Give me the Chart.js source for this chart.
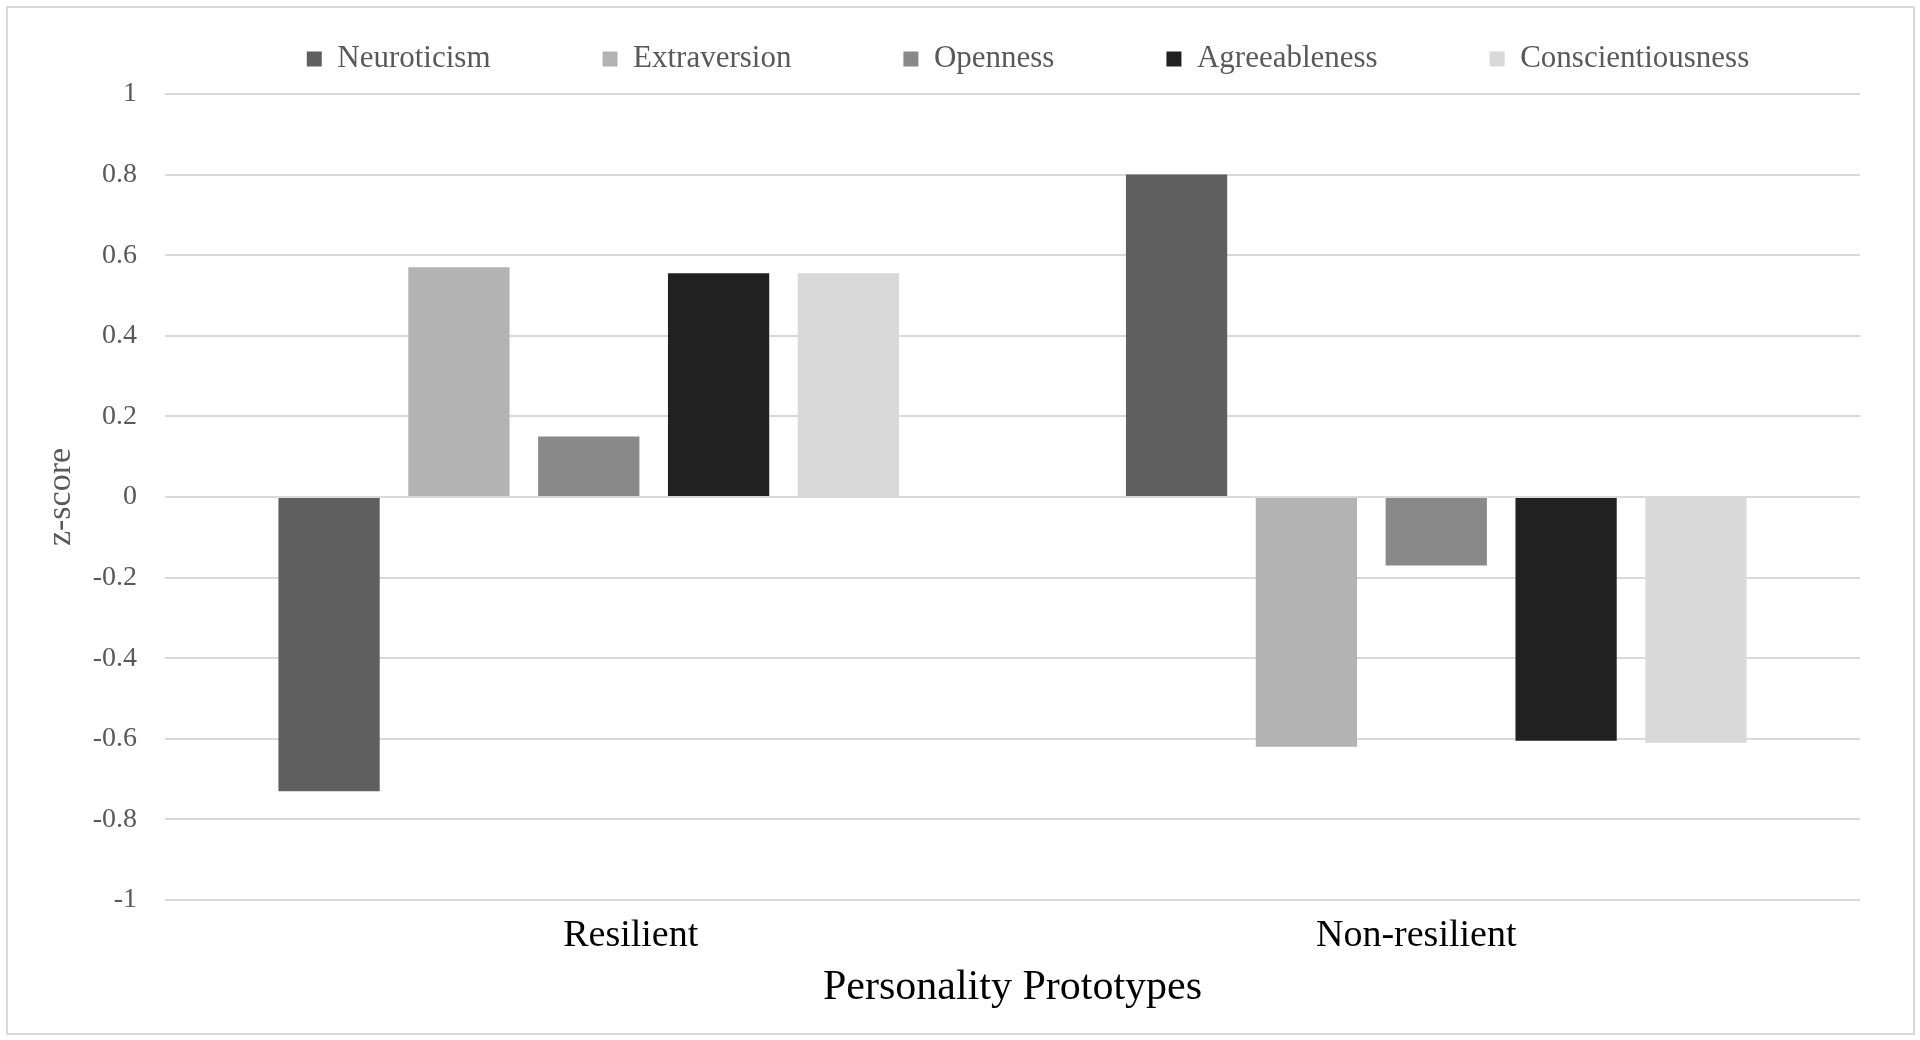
<!DOCTYPE html>
<html>
<head>
<meta charset="utf-8">
<script src="https://cdn.jsdelivr.net/npm/chart.js@4/dist/chart.umd.min.js"></script>
<style>
  html, body { margin: 0; padding: 0; background: #fff; }
  #wrap { position: relative; width: 1920px; height: 1040px; }
  #frame {
    position: absolute; left: 6px; top: 6px; right: 5px; bottom: 5px;
    border: 2px solid #d9d9d9; pointer-events: none;
  }
</style>
</head>
<body>
<div id="wrap">
  <canvas id="chart" width="1920" height="1040"></canvas>
  <div id="frame"></div>
</div>
<script>
// categories and series
const categories = ["Resilient", "Non-resilient"];
const neuroticism = [-0.73, 0.80];
const extraversion = [0.57, -0.62];
const openness = [0.15, -0.17];
const agreeableness = [0.555, -0.605];
const conscientiousness = [0.555, -0.61];

const yTicks = [-1, -0.8, -0.6, -0.4, -0.2, 0, 0.2, 0.4, 0.6, 0.8, 1];
const yTickLabels = ["-1", "-0.8", "-0.6", "-0.4", "-0.2", "0", "0.2", "0.4", "0.6", "0.8", "1"];

const serif = "'Liberation Serif', 'DejaVu Serif', serif";
const legendPad = 112;
// the category labels in the original are not centred under their groups
const xLabelShift = [42, -20];

const placement = {
  id: "placement",
  beforeInit(chart) {
    const fit = chart.legend.fit;
    chart.legend.fit = function () {
      fit.call(this);
      this.height = 94;
    };
  },
  afterLayout(chart) {
    const lg = chart.legend;
    const fs = lg.options.labels.font.size;
    lg.top = 59 - legendPad - fs / 2;
    lg.left = 1028 - 900;
    lg.right = 1028 + 900;

    const x = chart.scales.x;
    if (!x._shiftPatched) {
      const orig = x._computeLabelItems;
      x._computeLabelItems = function (area) {
        const items = orig.call(this, area);
        items.forEach((it, i) => { it.options.translation[0] += xLabelShift[i] || 0; });
        return items;
      };
      x._shiftPatched = true;
    }
  }
};

new Chart(document.getElementById("chart"), {
  type: "bar",
  data: {
    labels: categories,
    datasets: [
      { label: "Neuroticism", data: neuroticism, backgroundColor: "#5f5f5f" },
      { label: "Extraversion", data: extraversion, backgroundColor: "#b3b3b3" },
      { label: "Openness", data: openness, backgroundColor: "#898989" },
      { label: "Agreeableness", data: agreeableness, backgroundColor: "#212121" },
      { label: "Conscientiousness", data: conscientiousness, backgroundColor: "#d9d9d9" }
    ]
  },
  options: {
    responsive: false,
    animation: false,
    categoryPercentage: 0.766,
    barPercentage: 0.78,
    layout: { padding: { left: 41, right: 60, top: 0, bottom: 27 } },
    plugins: {
      tooltip: { enabled: false },
      legend: {
        position: "top",
        align: "center",
        labels: {
          boxWidth: 15,
          boxHeight: 15,
          padding: legendPad,
          color: "#595959",
          font: { family: serif, size: 31 }
        }
      }
    },
    scales: {
      x: {
        grid: { display: false },
        border: { display: false },
        ticks: {
          color: "#000",
          padding: 5,
          font: { family: serif, size: 38 }
        },
        title: {
          display: true,
          text: "Personality Prototypes",
          color: "#000",
          padding: 0,
          font: { family: serif, size: 42 }
        },
        afterFit: s => { s.height = 113; }
      },
      y: {
        min: -1,
        max: 1,
        afterBuildTicks: s => { s.ticks = yTicks.map(v => ({ value: v })); },
        grid: { color: "#d9d9d9", lineWidth: 2, drawTicks: false },
        border: { display: false },
        ticks: {
          color: "#595959",
          padding: 28,
          font: { family: serif, size: 28 },
          callback: (v, i) => yTickLabels[i]
        },
        title: {
          display: true,
          text: "z-score",
          color: "#595959",
          padding: 0,
          font: { family: serif, size: 34 }
        },
        afterFit: s => { s.width = 124; }
      }
    }
  },
  plugins: [placement]
});
</script>
</body>
</html>
